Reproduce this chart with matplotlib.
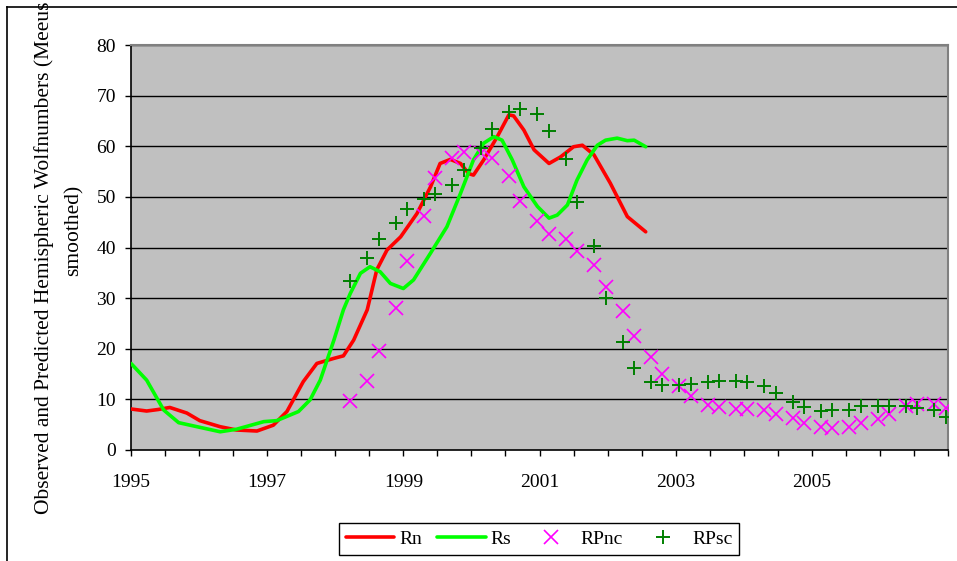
import matplotlib
matplotlib.use("Agg")
import matplotlib.pyplot as plt
from matplotlib.lines import Line2D

plt.rcParams['font.family'] = ['Liberation Serif', 'DejaVu Serif']

# ---- data ----
rn_year = [1995.00, 1995.23, 1995.40, 1995.57, 1995.82, 1996.01, 1996.31, 1996.55, 1996.85,
           1997.09, 1997.29, 1997.53, 1997.73, 1997.98, 1998.12, 1998.27, 1998.47, 1998.61,
           1998.76, 1998.96, 1999.20, 1999.40, 1999.54, 1999.69, 1999.84, 1999.96, 2000.03,
           2000.18, 2000.38, 2000.55, 2000.62, 2000.77, 2000.92, 2001.14, 2001.31, 2001.50,
           2001.63, 2001.80, 2002.04, 2002.29, 2002.56]
rn_val = [8.1, 7.7, 8.0, 8.4, 7.3, 5.8, 4.6, 3.95, 3.75,
          4.9, 7.6, 13.5, 17.1, 18.1, 18.6, 21.7, 27.7, 35.6,
          39.5, 42.1, 46.7, 52.0, 56.6, 57.4, 56.6, 54.6, 54.3,
          57.3, 61.9, 66.2, 66.0, 63.2, 59.3, 56.6, 57.9, 59.9,
          60.2, 58.3, 52.7, 46.1, 43.1]

rs_year = [1995.00, 1995.23, 1995.48, 1995.70, 1995.97, 1996.31, 1996.55, 1996.95, 1997.14,
           1997.46, 1997.63, 1997.78, 1997.98, 1998.12, 1998.22, 1998.37, 1998.51, 1998.66,
           1998.81, 1999.00, 1999.15, 1999.40, 1999.64, 1999.84, 2000.03, 2000.18, 2000.33,
           2000.45, 2000.60, 2000.77, 2000.97, 2001.14, 2001.26, 2001.41, 2001.55, 2001.70,
           2001.85, 2001.97, 2002.14, 2002.29, 2002.39, 2002.56]
rs_val = [17.1, 13.8, 7.9, 5.4, 4.6, 3.6, 4.1, 5.6, 5.8,
          7.6, 9.9, 13.8, 21.7, 27.7, 30.9, 34.9, 36.2, 35.2,
          32.9, 31.9, 33.6, 38.9, 44.1, 50.7, 57.3, 60.6, 61.9,
          61.2, 57.3, 52.0, 48.1, 45.8, 46.4, 48.4, 53.3, 57.3,
          60.2, 61.2, 61.6, 61.1, 61.2, 59.9]

pred_year = [1998.22, 1998.47, 1998.64, 1998.89, 1999.05, 1999.30, 1999.47, 1999.72, 1999.89,
             2000.14, 2000.30, 2000.55, 2000.72, 2000.97, 2001.14, 2001.39, 2001.55, 2001.80,
             2001.97, 2002.22, 2002.39, 2002.64, 2002.80, 2003.05, 2003.22, 2003.47, 2003.64,
             2003.89, 2004.05, 2004.30, 2004.47, 2004.72, 2004.89, 2005.14, 2005.30, 2005.55,
             2005.72, 2005.97, 2006.14, 2006.39, 2006.55, 2006.80, 2006.97]
rpnc_val = [9.7, 13.7, 19.6, 28.1, 37.4, 46.2, 53.7, 57.6, 58.9,
            58.6, 57.6, 54.1, 49.2, 45.3, 42.7, 41.6, 39.4, 36.5,
            32.2, 27.5, 22.5, 18.3, 15.0, 12.6, 10.7, 8.9, 8.4,
            8.1, 8.1, 7.9, 7.2, 6.3, 5.4, 4.5, 4.3, 4.6,
            5.3, 6.1, 7.2, 8.6, 9.1, 9.1, 8.2]
rpsc_val = [33.3, 37.9, 41.6, 44.8, 47.7, 49.5, 50.6, 52.3, 55.3,
            59.6, 63.5, 66.7, 67.3, 66.4, 63.1, 57.4, 48.9, 40.2,
            30.0, 21.3, 16.1, 13.5, 12.8, 12.8, 13.0, 13.4, 13.7,
            13.7, 13.5, 12.6, 11.3, 9.5, 8.4, 7.7, 7.9, 7.9,
            8.6, 8.6, 8.6, 8.6, 8.2, 7.9, 6.5]

x_tick_labels = ['1995', '1997', '1999', '2001', '2003', '2005']
y_ticks = [0, 10, 20, 30, 40, 50, 60, 70, 80]
series_names = ['Rn', 'Rs', 'RPnc', 'RPsc']

# ---- figure ----
W, H = 957, 561
fig = plt.figure(figsize=(W / 100, H / 100), dpi=100)
fig.patch.set_facecolor('white')

ax = fig.add_axes([131 / W, 1 - 450 / H, (948 - 131) / W, (450 - 45) / H])
ax.set_facecolor('#C0C0C0')

for y in y_ticks[1:]:
    ax.axhline(y, color='black', lw=1.0, zorder=1)

ax.plot(rn_year, rn_val, color='#FF0000', lw=2.6, solid_joinstyle='round',
        solid_capstyle='round', zorder=3, label=series_names[0])
ax.plot(rs_year, rs_val, color='#00FF00', lw=2.6, solid_joinstyle='round',
        solid_capstyle='round', zorder=3, label=series_names[1])
ax.plot(pred_year, rpnc_val, ls='none', marker='x', ms=9.5, mew=1.2,
        color='#FF00FF', zorder=4, label=series_names[2])
ax.plot(pred_year, rpsc_val, ls='none', marker='+', ms=10, mew=1.4,
        color='#008000', zorder=4, label=series_names[3])

ax.set_xlim(1995, 2007)
ax.set_ylim(0, 80)

major = [1995 + 0.5 * i for i in range(25)]
ax.set_xticks(major)
lbls = []
for t in major:
    s = str(int(t)) if float(t).is_integer() else ''
    lbls.append(s if s in x_tick_labels else '')
ax.set_xticklabels(lbls)
ax.set_yticks(y_ticks)
ax.set_yticklabels([str(v) for v in y_ticks])

ax.tick_params(axis='x', direction='out', length=4.3, width=1, color='black',
               labelsize=14, pad=13)
ax.tick_params(axis='y', direction='out', length=4.3, width=1, color='black',
               labelsize=14, pad=6.5)

for s in ['left', 'bottom']:
    ax.spines[s].set_color('black')
    ax.spines[s].set_linewidth(1.2)
for s in ['top', 'right']:
    ax.spines[s].set_color('#808080')
    ax.spines[s].set_linewidth(1.5)

# y label (two lines, clipped at top as in the reference)
fig.text(44 / W, 1 - 514 / H,
         'Observed and Predicted Hemispheric Wolfnumbers (Meeus',
         rotation=90, ha='center', va='bottom', fontsize=15.5)
fig.text(74 / W, 1 - 230 / H, 'smoothed)', rotation=90, ha='center',
         va='center', fontsize=15.5)

# outer chart border
fig.add_artist(Line2D([7 / W, 7 / W], [0, 1 - 7 / H], color='black', lw=1.2,
                      transform=fig.transFigure))
fig.add_artist(Line2D([7 / W, 1], [1 - 7 / H, 1 - 7 / H], color='black', lw=1.2,
                      transform=fig.transFigure))

leg = fig.legend(loc='center', bbox_to_anchor=(539 / W, 1 - 539 / H), ncol=4,
                 fontsize=14, frameon=True, fancybox=False, edgecolor='black',
                 facecolor='white', framealpha=1, handlelength=2.5,
                 handletextpad=0.25, columnspacing=0.8, borderpad=0.35)
leg.get_frame().set_linewidth(1.0)

fig.savefig('out.png', dpi=100, facecolor='white')
